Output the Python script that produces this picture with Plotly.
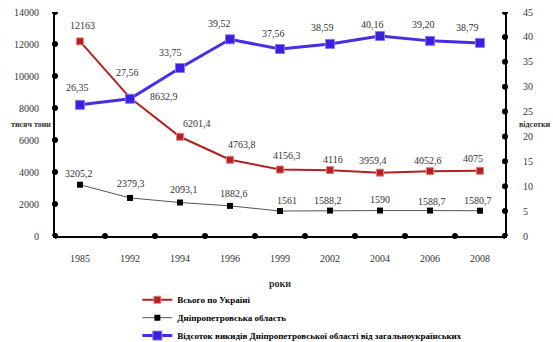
import plotly.graph_objects as go

years = ["1985", "1992", "1994", "1996", "1999", "2002", "2004", "2006", "2008"]
ukraine = [12163, 8632.9, 6201.4, 4763.8, 4156.3, 4116, 3959.4, 4052.6, 4075]
dnipro = [3205.2, 2379.3, 2093.1, 1882.6, 1561, 1588.2, 1590, 1588.7, 1580.7]
share = [26.35, 27.56, 33.75, 39.52, 37.56, 38.59, 40.16, 39.20, 38.79]

left_ticks = [0, 2000, 4000, 6000, 8000, 10000, 12000, 14000]
right_ticks = [0, 5, 10, 15, 20, 25, 30, 35, 40, 45]

names = ["Всього по Україні", "Дніпропетровська область",
         "Відсоток викидів Дніпропетровської області від загальноукраїнських"]

# label offsets in pixels (dx, dy) - styling only
red_off = [(2, -16), (34, -1), (17, -13), (12, -15), (7, -14), (3, -11), (-7, -12), (-2, -11), (-7, -12)]
black_off = [(-1, -11), (1, -14), (4, -13), (4, -12), (7, -11), (-2, -10), (0, -11), (2, -9), (-2, -10)]
blue_off = [(-3, -17), (-3, -26), (-10, -16), (-11, -16), (-7, -16), (-8, -16), (-8, -12), (-7, -16), (-13, -15)]

def fmt(v, nd=None):
    s = str(v) if nd is None else f"{v:.{nd}f}"
    if s.endswith(".0"):
        s = s[:-2]
    return s.replace(".", ",")

serif = "Liberation Serif"
lab_font = dict(family=serif, size=10, color="#333")

fig = go.Figure()
fig.add_trace(go.Scatter(
    x=years, y=ukraine, name=names[0], mode="lines+markers", legend="legend",
    line=dict(color="#b52020", width=2),
    marker=dict(symbol="square", size=7, color="#b52020", line=dict(color="#e08080", width=1)),
))
fig.add_trace(go.Scatter(
    x=years, y=dnipro, name=names[1], mode="lines+markers", legend="legend2",
    line=dict(color="#555", width=1),
    marker=dict(symbol="square", size=6, color="black"),
))
fig.add_trace(go.Scatter(
    x=years, y=share, name=names[2], mode="lines+markers", yaxis="y2", legend="legend3",
    line=dict(color="#4a2be6", width=3),
    marker=dict(symbol="square", size=9, color="#3a1fe0", line=dict(color="#8a78f0", width=1)),
))

annotations = []
def add_labels(vals, offs, yref, nd=None):
    for i, (v, (dx, dy)) in enumerate(zip(vals, offs)):
        annotations.append(dict(x=i, y=v, xref="x", yref=yref, text=fmt(v, nd),
                                showarrow=False, xanchor="center", yanchor="middle",
                                xshift=dx, yshift=-dy, font=lab_font))

add_labels(ukraine, red_off, "y")
add_labels(dnipro, black_off, "y")
add_labels(share, blue_off, "y2", 2)

annotations += [
    dict(text="<b>тисяч тонн</b>", xref="paper", yref="paper", x=0, y=0.5,
         xanchor="right", yanchor="middle", xshift=-2, showarrow=False,
         font=dict(family=serif, size=8, color="#333")),
    dict(text="<b>відсотки</b>", xref="paper", yref="paper", x=1, y=0.5,
         xanchor="left", yanchor="middle", xshift=12, showarrow=False,
         font=dict(family=serif, size=8, color="#333")),
    dict(text="<b>роки</b>", xref="paper", yref="paper", x=0.5, y=-0.21,
         xanchor="center", yanchor="middle", showarrow=False,
         font=dict(family=serif, size=10, color="#333")),
]

shapes = []
def dot(xref, x, yref, y):
    shapes.append(dict(type="circle", xref=xref, yref=yref,
                       xsizemode="pixel", ysizemode="pixel",
                       xanchor=x, yanchor=y, x0=-3, x1=3, y0=-3, y1=3,
                       fillcolor="black", line=dict(color="black", width=0)))

for t in left_ticks:
    dot("paper", 0, "y", t)
for t in right_ticks:
    dot("paper", 1, "y2", t)
for i in range(len(years) + 1):
    dot("x", i - 0.5, "paper", 0)

tick_font = dict(family=serif, size=10, color="#333")
leg_common = dict(x=0.183, xanchor="left", yanchor="top",
                  font=dict(family=serif, size=9, color="black", weight="bold"),
                  bgcolor="rgba(0,0,0,0)")

fig.update_layout(
    width=553, height=342,
    margin=dict(l=55, r=48, t=12, b=106, autoexpand=False),
    plot_bgcolor="white", paper_bgcolor="white",
    showlegend=True,
    legend=dict(y=-0.22, **leg_common),
    legend2=dict(y=-0.30, **leg_common),
    legend3=dict(y=-0.38, **leg_common),
    xaxis=dict(type="category", range=[-0.5, 8.5], showgrid=False,
               showline=True, linecolor="black", linewidth=2,
               ticks="outside", ticklen=12, tickcolor="rgba(0,0,0,0)",
               tickfont=tick_font, zeroline=False),
    yaxis=dict(range=[0, 14000], tickvals=left_ticks, tickformat="d", showgrid=False,
               showline=True, linecolor="black", linewidth=2,
               ticks="outside", ticklen=12, tickcolor="rgba(0,0,0,0)",
               tickfont=tick_font, zeroline=False),
    yaxis2=dict(range=[0, 45], tickvals=right_ticks, overlaying="y", side="right",
                showgrid=False, showline=True, linecolor="black", linewidth=2,
                ticks="outside", ticklen=14, tickcolor="rgba(0,0,0,0)",
                tickfont=tick_font, zeroline=False),
    shapes=shapes,
    annotations=annotations,
)

fig.write_html("out.html")
